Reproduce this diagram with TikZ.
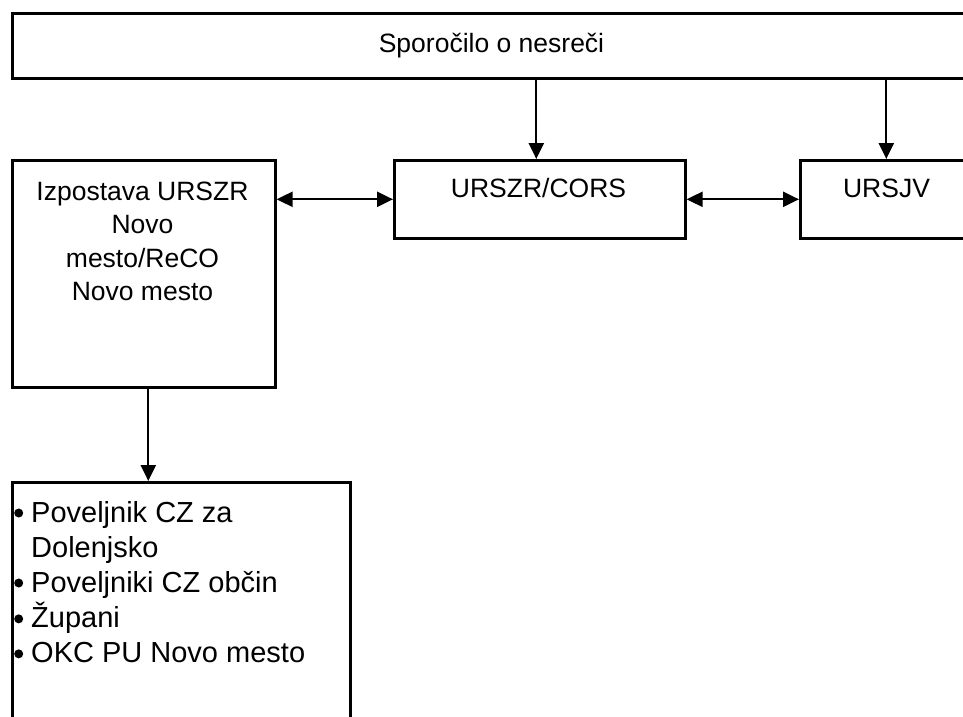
\documentclass[tikz,border=0pt]{standalone}
\usepackage{fontspec}
\setmainfont{Liberation Sans}
\usetikzlibrary{arrows.meta}

\newcommand{\tocka}{\tikz[baseline=0pt]{\fill (4.5pt,9pt) circle[radius=4.5pt];}}

\tikzset{okvir/.style 2 args = {draw, line width = 2.6pt, inner sep = 0pt,
                                anchor = north west,
                                minimum width = #1, minimum height = #2},
         napis/.style = {inner sep = 0pt, anchor = base,
                         font = \fontsize{26.5}{33.5}\selectfont},
         puscica/.style = {line width = 2.3pt, -{Triangle[length=16pt, width=15pt]}},
         dvojna/.style = {line width = 2.3pt,
                          {Triangle[length=16pt, width=15pt]}-{Triangle[length=16pt, width=15pt]}}
        }

\begin{document}
\begin{tikzpicture}[x=1pt, y=-1pt]
  \useasboundingbox (0,0) rectangle (963,716);
  \clip (0,0) rectangle (963,716);

  \node[okvir={962}{65}, line width=2.8pt] (sporocilo) at (11,12) {};
  \node[okvir={263}{227}] (izpostava) at (11,159) {};
  \node[okvir={291}{78}] (cors) at (393,159) {};
  \node[okvir={172}{78}] (ursjv) at (799,159) {};
  \node[okvir={338}{300}] (seznam) at (11,481) {};

  \node[napis] (t-sporocilo) at (491.5,52) {Sporočilo o nesreči};
  \node[napis] (t-cors) at (538.5,197) {URSZR/CORS};
  \node[napis] (t-ursjv) at (886.5,197) {URSJV};
  \node[napis] (t-izpostava) at (142.5,200)
       {\begin{tabular}[t]{@{}c@{}}Izpostava URSZR\\Novo\\mesto/ReCO\\Novo mesto\end{tabular}};
  \node[napis, anchor=base west, font=\fontsize{29}{35}\selectfont] (t-seznam) at (10,522)
       {\begin{tabular}[t]{@{\hspace{4pt}}l@{\hspace{8pt}}l@{}}
          \tocka&Poveljnik CZ za\\
                &Dolenjsko\\
          \tocka&Poveljniki CZ občin\\
          \tocka&Župani\\
          \tocka&OKC PU Novo mesto
        \end{tabular}};

  \draw[puscica] ([xshift=-3.5pt]sporocilo.south -| cors.north) -- ([xshift=-3.5pt]cors.north);
  \draw[puscica] (sporocilo.south -| ursjv.north) -- (ursjv.north);
  \draw[dvojna] (izpostava.east |- cors.west) -- (cors.west);
  \draw[dvojna] (cors.east) -- (ursjv.west);
  \draw[puscica] ([xshift=4.5pt]izpostava.south) -- ([xshift=4.5pt]izpostava.south |- seznam.north);
\end{tikzpicture}
\end{document}
